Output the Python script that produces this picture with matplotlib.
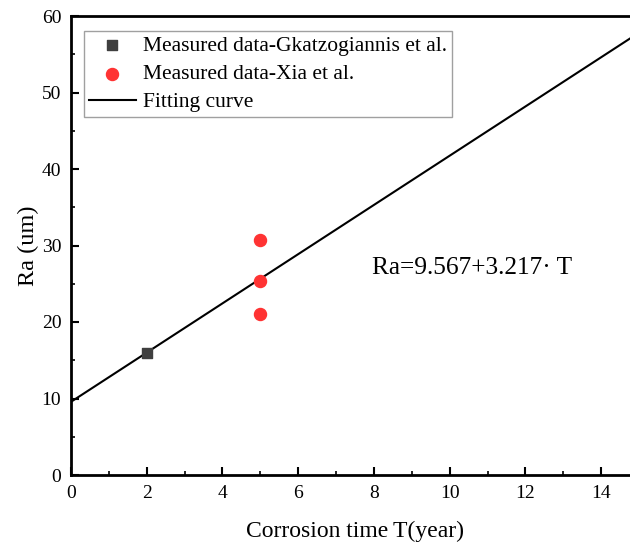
import matplotlib
matplotlib.use("Agg")
import matplotlib.pyplot as plt
import numpy as np
from matplotlib.ticker import MultipleLocator

gk_T = [2]
gk_Ra = [16.0]
xia_T = [5, 5, 5]
xia_Ra = [30.7, 25.3, 21.0]
fit_a = 9.567
fit_b = 3.217

plt.rcParams['font.family'] = ['Liberation Serif', 'DejaVu Serif']

fig = plt.figure(figsize=(6.3, 5.46), dpi=100)
W, H = 630, 546
left, right, top, bottom = 71, 639, 16, 475
ax = fig.add_axes([left / W, 1 - bottom / H, (right - left) / W, (bottom - top) / H])

xs = np.linspace(0, 15, 100)
ax.plot(xs, fit_a + fit_b * xs, color='black', lw=1.5, label='Fitting curve', zorder=2)
ax.scatter(gk_T, gk_Ra, marker='s', s=55, color='#3f3f3f', label='Measured data-Gkatzogiannis et al.', zorder=3)
ax.scatter(xia_T, xia_Ra, marker='o', s=75, color='#ff3333', label='Measured data-Xia et al.', zorder=3)

ax.set_xlim(0, 15)
ax.set_ylim(0, 60)
ax.xaxis.set_major_locator(MultipleLocator(2))
ax.xaxis.set_minor_locator(MultipleLocator(1))
ax.yaxis.set_major_locator(MultipleLocator(10))
ax.yaxis.set_minor_locator(MultipleLocator(5))
ax.tick_params(which='major', direction='in', length=6, width=1.5, labelsize=14, pad=7)
ax.tick_params(which='minor', direction='in', length=3, width=1.2)
ax.tick_params(top=False, right=False)
for s in ax.spines.values():
    s.set_linewidth(2)
ax.spines['right'].set_visible(False)

ax.set_xlabel('Corrosion time\u2009T(year)', fontsize=17, labelpad=14)
ax.set_ylabel('Ra (um)', fontsize=17.5, labelpad=2)

handles, labels = ax.get_legend_handles_labels()
order = [1, 2, 0]
leg = ax.legend([handles[i] for i in order], [labels[i] for i in order],
                loc='upper left', bbox_to_anchor=(0.0229, 0.967), borderaxespad=0,
                fontsize=15.5,
                frameon=True, fancybox=False, edgecolor='#888888',
                handlelength=2.2, handletextpad=0.33, borderpad=0.22, labelspacing=0.38)
leg.get_frame().set_linewidth(1.0)

ax.text(7.95, 27.0, 'Ra=9.567+3.217\u00b7 T', fontsize=18.3, va='center')

fig.savefig('out.png', dpi=100)
